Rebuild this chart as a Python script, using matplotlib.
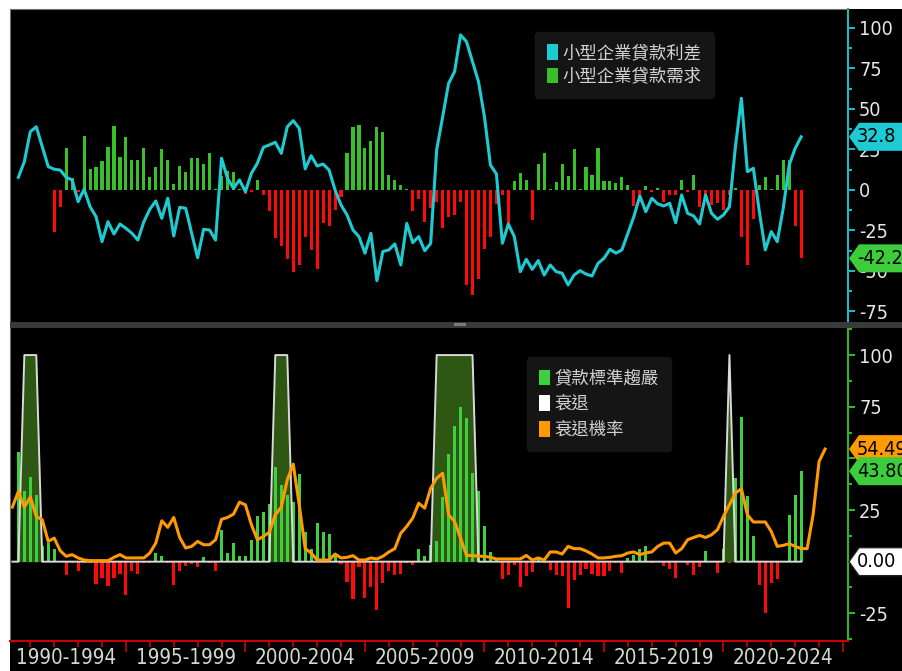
import os
import numpy as np
import matplotlib
matplotlib.use("Agg")
import matplotlib.pyplot as plt
from matplotlib import font_manager as fm
from matplotlib.patches import Rectangle, Patch, Polygon
from matplotlib.transforms import IdentityTransform
from matplotlib.ticker import MultipleLocator
from matplotlib.font_manager import FontProperties

nan = np.nan

# quarterly, first value = 1990 Q3
spread = [7.8, 17.5, 36, 39, 26.7, 14.4, 12.8, 12.3,
          7.8, 6.2, -7.2, 0.4, -10.3, -16.5, -31.9, -19.6,
          -27.2, -21, -23.7, -26.7, -30.9, -19.6, -11.9, -6.8,
          -17.5, -5.1, -28.4, -10.7, -11.3, -26.7, -41.8, -24.3,
          -24.7, -30.9, 19.6, 7.2, 1.0, 6.2, -1.0, 10.3,
          16.5, 26.3, 27.8, 29.4, 22.6, 39, 42.8, 38,
          13, 21.2, 14.8, 16, 12.3, 0, -9.3, -15.4,
          -24.7, -28.8, -39, -26.7, -56, -38, -37, -33.3,
          -46.3, -20.6, -32.5, -28.8, -37.5, -33, 24.7, 45,
          65.8, 73, 95.7, 91.5, 79.2, 66.9, 45.2, 15.4,
          9.9, -32.9, -21, -28.8, -50.4, -42.8, -49, -43.6,
          -52.5, -46.3, -50.4, -51.4, -58.6, -52.5, -49.8, -51.9,
          -53.1, -45.3, -42.2, -36.6, -39, -37, -26.7, -16.5,
          -3.7, -13.4, -5.1, -8.6, -9.9, -8.2, -20.2, -3.1,
          -14.4, -16, -21, -3.1, -14.4, -18.1, -15.4, -10.3,
          26.7, 56.6, 11.3, 13.4, -13.4, -37, -25.7, -31.9,
          -11.3, 15.4, 25.7, 32.8]

demand = [nan, nan, nan, nan, nan, nan, -25.7, -10.7,
          26.1, 7.6, -1, 33.5, 12.8, 14.4, 17.9, 26.7,
          39.5, 20.2, 32.5, 18.5, 18.5, 26.1, 7.8, 14,
          25.1, 18.5, 3.5, 15, 10.9, 19.9, 19.9, 16,
          22.6, 0.5, 8.6, 11.9, 11.3, 0.5, -2.5, -1,
          6.2, -3.1, -12.8, -29.4, -34.6, -42.8, -50.4, -46.3,
          -29.2, -37, -48.8, -20.2, -22.2, -12.3, -4.1, 22.6,
          38.7, 40.1, 26.1, 30.2, 38.7, 36, 9.3, 6.2,
          3.1, 0.5, -12.8, -5.6, -19.6, -11.3, -7.2, -23.7,
          -16.5, -15.4, -7.2, -58.6, -64.8, -55.1, -36.6, -29.2,
          -8.6, -3.1, -20.6, 5.8, 10.3, 6.2, -18.5, 16,
          22.6, 0.5, 5.1, 16, 8.6, 25.3, 0.5, 14.4,
          9.3, 26.1, 5.8, 5.8, 4.1, 7.8, 3, -10,
          -7.2, 2.5, -1, 1, -7.2, -3.1, -3.1, 6.2,
          -1, 9.3, -10.5, -3.5, -9.3, -7.8, -12.3, -3,
          1, -29.2, -46.3, -18.1, 3.1, 7.8, 0.5, 9.3,
          18.5, 18.5, -22.2, -42.2]

standards = [53.3, 34.4, 40.9, 32.4, 7.4, 9, 6, 0,
             -6.3, -0.6, -4.7, -0.6, -0.6, -10.8, -7.9, -11.6,
             -7.9, -5.9, -16.3, -4.7, -5.9, -0.6, -0.6, 4.2,
             2.6, -0.6, -11.4, -4.7, -2.3, -1.3, -2.7, 2.4,
             -0.6, -4.7, 15.5, 4.2, 9, 2.6, 2.6, 10.3,
             21.9, 24, 27.9, 46, 36.9, 32.4, 29, 42.4,
             14.6, 6.2, 18.7, 14.2, 13.4, 3, -1, -9.8,
             -18.2, -2.7, -17.5, -12.4, -23.2, -10.3, -4.7, -6.3,
             -6, -0.6, -1.5, 6.3, 2.6, 8.2, 10.1, 31.1,
             52, 65.7, 74.7, 69.7, 42.8, 34.4, 17.1, 4.7,
             1, -8.2, -6.3, -1.5, -12.4, -7.1, -5.2, 2.2,
             -0.6, -3.9, -6.6, -7.1, -22.4, -8.7, -6.3, -3.4,
             -6, -7.1, -7.1, -4.7, -0.6, -5.6, 1.6, 3.4,
             6.3, 7.7, -0.8, 0, -2, -3.4, -7.9, 0,
             -1.6, -6.3, -2.4, 5, 0, -5.6, 6.3, -0.8,
             40.4, 70.2, 31.6, 12.2, -11.4, -24.8, -10.3, -8.4,
             0, 22.4, 32.4, 43.8]

# these two start one quarter earlier (1990 Q2)
recession = [0, 0, 100, 100, 100, 0, 0, 0, 0, 0,
             0, 0, 0, 0, 0, 0, 0, 0, 0, 0,
             0, 0, 0, 0, 0, 0, 0, 0, 0, 0,
             0, 0, 0, 0, 0, 0, 0, 0, 0, 0,
             0, 0, 0, 0, 100, 100, 100, 0, 0, 0,
             0, 0, 0, 0, 0, 0, 0, 0, 0, 0,
             0, 0, 0, 0, 0, 0, 0, 0, 0, 0,
             0, 100, 100, 100, 100, 100, 100, 100, 0, 0,
             0, 0, 0, 0, 0, 0, 0, 0, 0, 0,
             0, 0, 0, 0, 0, 0, 0, 0, 0, 0,
             0, 0, 0, 0, 0, 0, 0, 0, 0, 0,
             0, 0, 0, 0, 0, 0, 0, 0, 0, 0,
             100, 0, 0, 0, 0, 0, 0, 0, 0, 0,
             0, 0, 0]

rec_prob = [26.4, 34, 26.4, 31.3, 21.9, 20.3, 9.8, 11.4, 5.3,
            2.6, 3.4, 1.8, 0.8, 0.5, 0.5, 0.5, 0.5,
            2.1, 3.4, 1.8, 1.8, 1.8, 1.8, 4.2, 9,
            19.8, 16.6, 21.4, 11.7, 6.6, 7.4, 9.8, 8.2,
            8.2, 10.6, 20.5, 21.4, 23, 28.8, 27.5, 17.9,
            10.6, 12.2, 14.3, 22.7, 26.4, 39.6, 47.2, 27.5,
            6.3, 4.2, 0.8, 0.8, 0.8, 3.7, 1.8, 2.1,
            2.9, 0.8, 0.8, 1.8, 1.3, 2.6, 4.7, 6.3,
            13.8, 17.1, 21.1, 28.3, 25.9, 35.5, 40.4, 42.8,
            22.7, 19.5, 11.4, 3, 3, 2.6, 2.6, 2.1,
            1.3, 1.3, 1.3, 1.3, 1.3, 3, 0.8, 1.8,
            0.8, 4.7, 4.7, 3.7, 7.4, 6.3, 6.3, 5.2,
            3.7, 1.8, 1.8, 2.1, 2.6, 2.9, 4.2, 4.7,
            3.4, 4.2, 4.7, 7.4, 9, 9, 4.2, 6.3,
            10.6, 11.7, 12.7, 11.7, 13, 15.5, 21.9, 27.5,
            33.2, 35.3, 22.7, 19.2, 19.2, 19.2, 14.6, 7.4,
            7.9, 8.7, 7.4, 6.3, 6.3, 22.7, 48.5, 54.49]

period_labels = ["1990-1994", "1995-1999", "2000-2004", "2005-2009",
                 "2010-2014", "2015-2019", "2020-2024"]
period_mid = [1992.5, 1997.5, 2002.5, 2007.5, 2012.5, 2017.5, 2022.5]
top_ticks = [-75, -50, -25, 0, 25, 50, 75, 100]
bottom_ticks = [-25, 0, 25, 50, 75, 100]

top_names = ["小型企業貸款利差", "小型企業貸款需求"]
bottom_names = ["貸款標準趨嚴", "衰退", "衰退機率"]

t_main = 1990.5 + 0.25 * np.arange(len(spread))
t_rec = 1990.25 + 0.25 * np.arange(len(recession))
t_prob = 1990.25 + 0.25 * np.arange(len(rec_prob))
demand = np.array(demand)
standards = np.array(standards)


# a narrow face for the numbers, if one is installed
def narrow_font():
    bad = ("bold", "italic", "light", "thin", "medium", "black", "semi", "extra",
           "mono", "oblique", "heavy")
    found = []
    for f in fm.fontManager.ttflist:
        base = os.path.basename(f.fname).lower()
        if ("condensed" in base or "narrow" in base) and not any(b in base for b in bad):
            found.append((base, f.fname))
    for key in ("liberationsansnarrow", "dejavusanscondensed", "robotocondensed",
                "condensed", "narrow"):
        for base, fn in sorted(found):
            if key in base.replace("-", "").replace("_", ""):
                return FontProperties(fname=fn)
    return FontProperties(family=["Liberation Sans", "DejaVu Sans"])


num_font = narrow_font()
cjk = FontProperties(family=["Noto Sans CJK TC", "DejaVu Sans"], size=12.5)

CYAN = "#1fcbd3"
GREEN1 = "#38c02a"
GREEN2 = "#3fd03f"
RED = "#ff0a0a"
ORANGE = "#ff9a00"

W, H = 903, 671
fig = plt.figure(figsize=(W / 100, H / 100), dpi=100, facecolor="white")
fig.patches.append(Rectangle((10 / W, 0), 1 - 10 / W, 1 - 9 / H, transform=fig.transFigure,
                             facecolor="black", edgecolor="none", zorder=-10))
renderer = fig.canvas.get_renderer()


def fitted(s, target_w, target_h):
    p = num_font.copy()
    p.set_size(10)
    w, h, d = renderer.get_text_width_height_descent(s, p, ismath=False)
    p.set_size(min(10 * target_w / w, 10 * target_h / h))
    return p


ytick_font = fitted("100", 34, 20)
xlab_font = fitted("1990-1994", 100, 22)


def box(l, t, r, b):
    return [l / W, 1 - b / H, (r - l) / W, (b - t) / H]


ax1 = fig.add_axes(box(10, 9, 848, 322), facecolor="black")
ax2 = fig.add_axes(box(10, 328, 848, 641), facecolor="black")

for ax, col, ticks in ((ax1, "#19b9c0", top_ticks), (ax2, "#2fb52f", bottom_ticks)):
    ax.set_xlim(1990.15, 2025.21)
    ax.yaxis.tick_right()
    ax.set_yticks(ticks, [str(v) for v in ticks], fontproperties=ytick_font, color="#e6e6e6")
    ax.yaxis.set_minor_locator(MultipleLocator(12.5))
    ax.tick_params(axis="y", which="both", colors=col, labelcolor="#e6e6e6",
                   length=5, width=1.5, pad=3)
    ax.tick_params(axis="y", which="minor", length=3)
    ax.spines["right"].set_color(col)
    ax.spines["right"].set_linewidth(1.5)
    ax.spines["left"].set_color("#707070")
    ax.spines["top"].set_color("#707070")

ax1.set_ylim(-81.5, 111.7)
ax2.set_ylim(-38.4, 113.1)
ax1.spines["bottom"].set_visible(False)
ax1.tick_params(axis="x", which="both", bottom=False, labelbottom=False)
ax2.spines["top"].set_visible(False)
ax2.spines["bottom"].set_color("#cc0000")
ax2.spines["bottom"].set_linewidth(1.5)
ax2.xaxis.set_major_locator(MultipleLocator(5))
ax2.xaxis.set_minor_locator(MultipleLocator(1))
ax2.tick_params(axis="x", which="major", colors="#cc0000", length=8, width=1.2, labelbottom=False)
ax2.tick_params(axis="x", which="minor", colors="#cc0000", length=4, width=1.2)

for mid, lbl in zip(period_mid, period_labels):
    ax2.annotate(lbl, xy=(mid, 0), xycoords=("data", "axes fraction"), xytext=(0, -7),
                 textcoords="offset pixels", ha="center", va="top", fontproperties=xlab_font,
                 color="#d6d6d6", annotation_clip=False)

# top panel
ax1.bar(t_main, demand, width=0.13, color=np.where(demand >= 0, GREEN1, RED), zorder=2)
ax1.plot(t_main, spread, color=CYAN, lw=2.2, zorder=3)
ax1.legend(handles=[Patch(fc=CYAN), Patch(fc=GREEN1)], labels=top_names,
           loc="upper left", bbox_to_anchor=(0.6265, 0.9265), prop=cjk, labelcolor="#d2d2d2",
           facecolor="#151515", edgecolor="#151515", framealpha=1, handlelength=0.6,
           handleheight=1.0, handletextpad=0.3, labelspacing=0.3, borderpad=0.7,
           borderaxespad=0)

# bottom panel
ax2.fill_between(t_rec, recession, 0, color="#2d5712", lw=0, zorder=1)
ax2.bar(t_main, standards, width=0.13, color=np.where(standards >= 0, GREEN2, RED), zorder=2)
ax2.plot(t_rec, recession, color="#d9d9d9", lw=1.4, zorder=3)
ax2.plot(t_prob, rec_prob, color=ORANGE, lw=2.2, zorder=4)
ax2.legend(handles=[Patch(fc=GREEN2), Patch(fc="white"), Patch(fc=ORANGE)], labels=bottom_names,
           loc="upper left", bbox_to_anchor=(0.617, 0.907), prop=cjk, labelcolor="#d2d2d2",
           facecolor="#151515", edgecolor="#151515", framealpha=1, handlelength=0.6,
           handleheight=1.0, handletextpad=0.3, labelspacing=0.45, borderpad=0.7,
           borderaxespad=0)

# separator between panels
fig.patches.append(Rectangle((10 / W, 1 - 328 / H), 1 - 10 / W, 6 / H, transform=fig.transFigure,
                             facecolor="#3a3a3a", edgecolor="none", zorder=2))
fig.patches.append(Rectangle((454 / W, 1 - 326.5 / H), 12 / W, 3 / H, transform=fig.transFigure,
                             facecolor="#7a7a7a", edgecolor="none", zorder=3))

# value tags on the right axis
zt = [5]


def tag(ax, value, text, fc, tc="black", ec="none"):
    y0 = ax.transData.transform((0, value))[1]
    x0 = ax.transAxes.transform((1, 0))[0]
    verts = [(x0 + 1, y0), (x0 + 11, y0 + 14), (x0 + 70, y0 + 14),
             (x0 + 70, y0 - 14), (x0 + 11, y0 - 14)]
    fig.patches.append(Polygon(verts, closed=True, transform=IdentityTransform(),
                               facecolor=fc, edgecolor=ec, lw=1, zorder=zt[0]))
    t = fig.text(x0 + 9, y0, text, transform=IdentityTransform(), ha="left", va="center",
                 fontproperties=ytick_font, color=tc, zorder=zt[0] + 1)
    zt[0] += 2
    return t


tag(ax1, spread[-1], f"{spread[-1]:.1f}", CYAN)
tag(ax1, demand[-1], f"{demand[-1]:.1f}", "#3ccc3c")
tag(ax2, rec_prob[-1], f"{rec_prob[-1]:.2f}", ORANGE)
tag(ax2, standards[-1], f"{standards[-1]:.2f}", "#3ccc3c")
tag(ax2, 0, "0.00", "white", ec="#222222")

fig.savefig("out.png", dpi=100, facecolor="white")
